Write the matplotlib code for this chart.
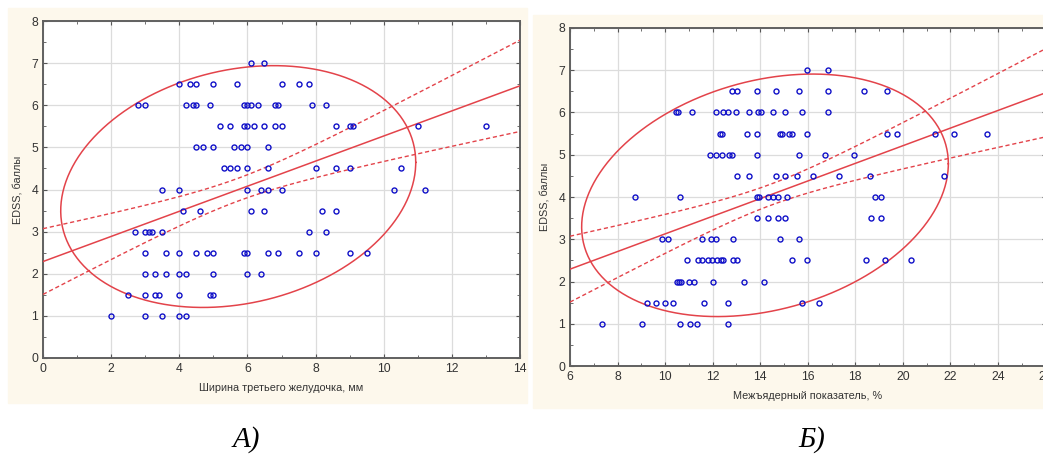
import numpy as np
import matplotlib.pyplot as plt
from matplotlib.patches import Rectangle
from matplotlib.ticker import MultipleLocator

# EDSS level -> third ventricle width, mm (panel A)
ventricle_by_edss = {
    7.0: [6.1, 6.5],
    6.5: [4.0, 4.3, 4.5, 5.0, 5.7, 7.0, 7.5, 7.8],
    6.0: [2.8, 3.0, 4.2, 4.4, 4.5, 4.9, 5.9, 6.0, 6.1, 6.3, 6.8, 6.9, 7.9, 8.3],
    5.5: [5.2, 5.5, 5.9, 6.0, 6.2, 6.5, 6.8, 7.0, 8.6, 9.0, 9.1, 11.0, 13.0],
    5.0: [4.5, 4.7, 5.0, 5.6, 5.8, 6.0, 6.6],
    4.5: [5.3, 5.5, 5.7, 6.0, 6.6, 8.0, 8.6, 9.0, 10.5],
    4.0: [3.5, 4.0, 6.0, 6.4, 6.6, 7.0, 10.3, 11.2],
    3.5: [4.1, 4.6, 6.1, 6.5, 8.2, 8.6],
    3.0: [2.7, 3.0, 3.1, 3.2, 3.5, 7.8, 8.3],
    2.5: [3.0, 3.6, 4.0, 4.5, 4.8, 5.0, 5.9, 6.0, 6.6, 6.9, 7.5, 8.0, 9.0, 9.5],
    2.0: [3.0, 3.3, 3.6, 4.0, 4.2, 5.0, 6.0, 6.4],
    1.5: [2.5, 3.0, 3.3, 3.4, 4.0, 4.9, 5.0],
    1.0: [2.0, 3.0, 3.5, 4.0, 4.2],
}

# EDSS level -> intercaudate index, % (panel Б)
index_by_edss = {
    7.0: [15.98, 16.84],
    6.5: [12.83, 13.01, 13.85, 14.65, 15.64, 16.84, 18.36, 19.34],
    6.0: [10.44, 10.55, 11.14, 12.14, 12.42, 12.63, 12.97, 13.54, 13.92, 14.03,
          14.55, 15.04, 15.74, 16.84],
    5.5: [12.31, 12.40, 13.46, 13.85, 14.85, 14.92, 15.22, 15.32, 15.95, 19.34,
          19.74, 21.35, 22.15, 23.55],
    5.0: [11.89, 12.13, 12.40, 12.70, 12.83, 13.85, 15.64, 16.72, 17.94],
    4.5: [13.01, 13.54, 14.65, 15.04, 15.53, 16.23, 17.32, 18.62, 21.74],
    4.0: [8.73, 10.63, 13.85, 13.96, 14.31, 14.52, 14.73, 15.14, 18.83, 19.07],
    3.5: [13.85, 14.34, 14.76, 15.04, 18.64, 19.07],
    3.0: [9.86, 10.11, 11.54, 11.92, 12.14, 12.84, 14.83, 15.64],
    2.5: [10.93, 11.40, 11.54, 11.82, 11.96, 12.17, 12.34, 12.45, 12.84, 13.04,
          15.35, 15.95, 18.45, 19.25, 20.34],
    2.0: [10.51, 10.58, 10.65, 11.02, 11.21, 12.03, 13.33, 14.16],
    1.5: [9.25, 9.62, 10.01, 10.35, 11.64, 12.63, 15.74, 16.45],
    1.0: [7.33, 9.04, 10.63, 11.05, 11.33, 12.63],
}

# regression: intercept, slope
fit_a = (2.29, 0.298)
fit_b = (1.04, 0.2087)
# confidence band: centre x, min half-width, curvature
band_a = (5.75, 0.27, 0.0162)
band_b = (14.43, 0.25, 0.00767)
# 95% ellipse: centre x, centre y, half-range x, half-range y, correlation
ellipse_a = (5.73, 4.07, 5.21, 2.87, 0.20)
ellipse_b = (14.20, 4.04, 7.71, 2.87, 0.26)

x_labels = ["Ширина третьего желудочка, мм", "Межъядерный показатель, %"]
y_label = "EDSS, баллы"
panel_tags = ["А)", "Б)"]

RED = "#E3434A"
BLUE = "#1010C8"
CREAM = "#FDF8EC"


def flatten(rows):
    xs, ys = [], []
    for level, values in rows.items():
        xs.extend(values)
        ys.extend([level] * len(values))
    return np.array(xs), np.array(ys)


def draw_panel(ax, rows, fit, band, ell, xlim, xlabel):
    xs, ys = flatten(rows)
    ax.plot(xs, ys, "o", ms=3.6, mfc="none", mec=BLUE, mew=1.0, zorder=4)

    gx = np.linspace(xlim[0], xlim[1], 200)
    gy = fit[0] + fit[1] * gx
    half = np.sqrt(band[1] ** 2 + band[2] * (gx - band[0]) ** 2)
    ax.plot(gx, gy, color=RED, lw=1.1, zorder=3)
    ax.plot(gx, gy + half, color=RED, lw=1.0, ls=(0, (3, 2)), zorder=3)
    ax.plot(gx, gy - half, color=RED, lw=1.0, ls=(0, (3, 2)), zorder=3)

    t = np.linspace(0, 2 * np.pi, 300)
    delta = np.arccos(ell[4])
    ax.plot(ell[0] + ell[2] * np.cos(t), ell[1] + ell[3] * np.cos(t - delta),
            color=RED, lw=1.1, zorder=3)

    ax.set_xlim(*xlim)
    ax.set_ylim(0, 8)
    ax.xaxis.set_major_locator(MultipleLocator(2))
    ax.xaxis.set_minor_locator(MultipleLocator(1))
    ax.yaxis.set_major_locator(MultipleLocator(1))
    ax.yaxis.set_minor_locator(MultipleLocator(0.5))
    ax.grid(True, which="major", color="#DCDCDC", lw=0.9)
    ax.set_axisbelow(True)
    ax.tick_params(which="both", direction="in", top=True, right=True,
                   labelsize=8.8, labelcolor="#333333", color="#555555")
    ax.tick_params(which="major", length=3)
    ax.tick_params(which="minor", length=2)
    for spine in ax.spines.values():
        spine.set_color("#606060")
        spine.set_linewidth(1.4)
    ax.set_xlabel(xlabel, fontsize=7.8, color="#333333", labelpad=6)
    ax.set_ylabel(y_label, fontsize=7.8, color="#333333", labelpad=6)


plt.rcParams["font.family"] = ["Liberation Sans", "DejaVu Sans"]

W, H = 1043, 461
fig = plt.figure(figsize=(W / 100, H / 100), dpi=100)

fig.patches.append(Rectangle((8 / W, 1 - 403 / H), 519 / W, 395 / H,
                             transform=fig.transFigure, color=CREAM, zorder=-10))
fig.patches.append(Rectangle((533 / W, 1 - 408 / H), 510 / W, 393 / H,
                             transform=fig.transFigure, color=CREAM, zorder=-10))

ax1 = fig.add_axes([43 / W, 1 - 358 / H, 477 / W, 337 / H])
ax2 = fig.add_axes([570 / W, 1 - 366 / H, 475.6 / W, 338 / H])

draw_panel(ax1, ventricle_by_edss, fit_a, band_a, ellipse_a, (0, 14), x_labels[0])
draw_panel(ax2, index_by_edss, fit_b, band_b, ellipse_b, (6, 26), x_labels[1])

fig.text(246 / W, 1 - 440 / H, panel_tags[0], family="Liberation Serif",
         style="italic", fontsize=21, ha="center", va="center")
fig.text(812 / W, 1 - 440 / H, panel_tags[1], family="Liberation Serif",
         style="italic", fontsize=21, ha="center", va="center")

fig.savefig("out.png", dpi=100)
